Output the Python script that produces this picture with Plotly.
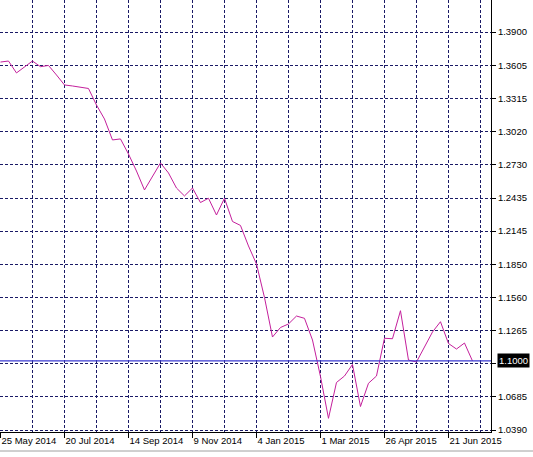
import pandas as pd
import plotly.graph_objects as go

# Weekly closes, 25 May 2014 .. 12 Jul 2015
start_date = "2014-05-25"
closes = [1.3635, 1.3644, 1.3539, 1.3591, 1.3644, 1.3594, 1.3605, 1.3521, 1.3433, 1.3424,
          1.3415, 1.3402, 1.3256, 1.3133, 1.2948, 1.2957, 1.2824, 1.2674, 1.2507, 1.2630,
          1.2745, 1.2657, 1.2524, 1.2454, 1.2524, 1.2396, 1.2434, 1.2286, 1.2434, 1.2229,
          1.2194, 1.2013, 1.1854, 1.1559, 1.1210, 1.1294, 1.1325, 1.1395, 1.1375, 1.1184,
          1.0862, 1.0493, 1.0809, 1.0866, 1.0968, 1.0597, 1.0802, 1.0866, 1.1199, 1.1195,
          1.1442, 1.1007, 1.0990, 1.1122, 1.1254, 1.1345, 1.1153, 1.1104, 1.1157, 1.0999]
dates = pd.date_range(start_date, periods=len(closes), freq="7D")

x_tick_dates = ["2014-05-25", "2014-07-20", "2014-09-14", "2014-11-09",
                "2015-01-04", "2015-03-01", "2015-04-26", "2015-06-21"]
x_tick_labels = ["25 May 2014", "20 Jul 2014", "14 Sep 2014", "9 Nov 2014",
                 "4 Jan 2015", "1 Mar 2015", "26 Apr 2015", "21 Jun 2015"]

y_tick_vals = [1.0390, 1.0685, 1.0975, 1.1265, 1.1560, 1.1850, 1.2145, 1.2435,
               1.2730, 1.3020, 1.3315, 1.3605, 1.3900]
y_tick_labels = ["1.0390", "1.0685", "", "1.1265", "1.1560", "1.1850", "1.2145", "1.2435",
                 "1.2730", "1.3020", "1.3315", "1.3605", "1.3900"]

level_value = 1.1000
level_label = "1.1000"

W, H = 533, 457
plot_w, plot_h = 491, 432
px_per_val = 398 / 0.351
y_top = 1.3900 + 32 / px_per_val
y_bot = 1.0390 - 2 / px_per_val

t0 = pd.Timestamp(start_date) - pd.Timedelta(hours=10)
t1 = t0 + pd.Timedelta(days=plot_w / 8 * 7)

grid_color = "#1a1a66"
font = dict(family="Liberation Sans", size=9.5, color="#000000")

fig = go.Figure()
fig.add_trace(go.Scatter(x=dates, y=closes, mode="lines",
                         line=dict(color="#c4209c", width=1), hoverinfo="skip"))

fig.add_shape(type="line", xref="paper", yref="y", x0=0, x1=1,
              y0=level_value, y1=level_value, line=dict(color="#3a3ad0", width=1.2))

fig.add_annotation(xref="paper", yref="y", x=1, y=level_value, xanchor="left",
                   xshift=6, text=level_label, showarrow=False, bgcolor="#000000",
                   font=dict(family="Liberation Sans", size=9.5, color="#ffffff"),
                   borderpad=1)

# window frame line under the time axis
fig.add_shape(type="line", xref="paper", yref="paper", x0=0, x1=W / plot_w,
              y0=-(451 - plot_h) / plot_h, y1=-(451 - plot_h) / plot_h,
              line=dict(color="#a0a0a0", width=1))

fig.update_layout(
    width=W, height=H,
    margin=dict(l=0, r=W - plot_w, t=0, b=H - plot_h, autoexpand=False),
    paper_bgcolor="#ffffff", plot_bgcolor="#ffffff",
    showlegend=False, font=font,
    xaxis=dict(type="date", range=[t0, t1], tickmode="array", automargin=False,
               tickvals=x_tick_dates, ticktext=x_tick_labels,
               ticklabelposition="outside right",
               showgrid=True, gridcolor=grid_color, griddash="3px,2px", gridwidth=1,
               ticks="outside", ticklen=5, tickcolor="#000000",
               showline=True, linecolor="#000000", linewidth=1,
               zeroline=False, tickfont=font,
               minor=dict(tickmode="linear", tick0=start_date, dtick=28 * 86400000,
                          showgrid=True, gridcolor=grid_color, griddash="3px,2px",
                          gridwidth=1, ticks="")),
    yaxis=dict(side="right", range=[y_bot, y_top], tickmode="array", automargin=False,
               tickvals=y_tick_vals, ticktext=y_tick_labels,
               showgrid=True, gridcolor=grid_color, griddash="3px,2px", gridwidth=1,
               ticks="outside", ticklen=4, tickcolor="#000000",
               showline=True, linecolor="#000000", linewidth=1,
               zeroline=False, tickfont=font),
)

fig.write_html("out.html", config={"displayModeBar": False},
               post_script="document.body.style.margin='0px';document.body.style.overflow='hidden';")
